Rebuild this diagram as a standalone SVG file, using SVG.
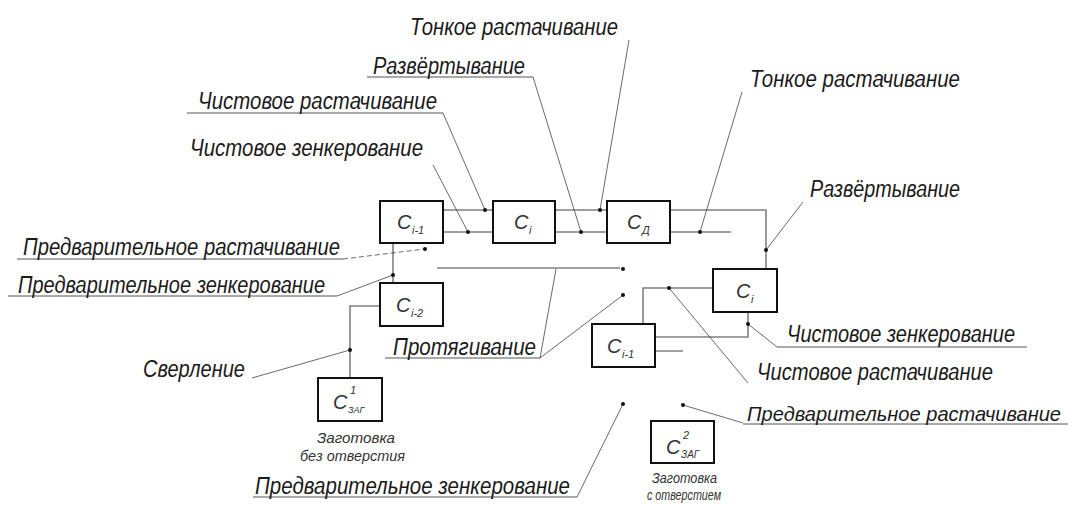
<svg xmlns="http://www.w3.org/2000/svg" width="1074" height="506" viewBox="0 0 1074 506">
<style>
.box{fill:#fff;stroke:#111;stroke-width:2}
.ln{fill:none;stroke:#808080;stroke-width:1.6}
.ld{fill:none;stroke:#444;stroke-width:0.8}
.dash{stroke-dasharray:5,3}
.ul{fill:none;stroke:#555;stroke-width:1}
.dot{fill:#111}
.t{font-family:"Liberation Sans",Arial,sans-serif;font-style:italic;font-size:23px;fill:#1a1a1a}
.s{font-family:"Liberation Sans",Arial,sans-serif;font-style:italic;font-size:15px;fill:#333}
.c{font-family:"Liberation Sans",Arial,sans-serif;font-style:italic;font-size:20px;fill:#333}
.sub{font-family:"Liberation Sans",Arial,sans-serif;font-style:italic;font-size:11px;fill:#333}
.tiny{font-family:"Liberation Sans",Arial,sans-serif;font-style:italic;font-size:9px;fill:#333}
</style>
<rect width="1074" height="506" fill="#fff"/>
<g id="connectors">
<path class="ln" d="M443 210H493M443 232H493M555 210H607M555 232H607M670 210H766V269M670 232H731"/>
<path class="ln" d="M393 243V283M380 306H350V378"/>
<path class="ln" d="M437 268H620"/>
<path class="ln" d="M713 288H643V324M748 312V337H655M655 351H683"/>
</g>
<g id="leaders">
<path class="ld" d="M629 40L600 210"/>
<path class="ld" d="M533 77L581 232"/>
<path class="ld" d="M443 113L485 210"/>
<path class="ld" d="M433 165L468 232"/>
<path class="ld dash" d="M343 259L425 249"/>
<path class="ld" d="M337 296L393 275"/>
<path class="ld" d="M252 378L350 350"/>
<path class="ld" d="M540 358L556 269M540 358L623 295"/>
<path class="ld" d="M742 92L700 232"/>
<path class="ld" d="M803 202L766 250"/>
<path class="ld" d="M777 347L748 324"/>
<path class="ld" d="M748 383L669 288"/>
<path class="ld" d="M743 423L683 405"/>
<path class="ld" d="M577 497L623 404"/>
<g class="ul">
<path d="M367 77H533"/>
<path d="M187 113H443"/>
<path d="M17 259H343"/>
<path d="M8 296H337"/>
<path d="M385 358H540"/>
<path d="M777 347H1027"/>
<path d="M743 424H1068"/>
<path d="M253 497H577"/>
</g>
</g>
<g id="dots" class="dot">
<circle cx="485" cy="210" r="2"/><circle cx="468" cy="232" r="2"/>
<circle cx="600" cy="210" r="2"/><circle cx="581" cy="232" r="2"/>
<circle cx="700" cy="232" r="2"/><circle cx="766" cy="250" r="2"/>
<circle cx="425" cy="249" r="2"/><circle cx="393" cy="275" r="2"/>
<circle cx="350" cy="350" r="2"/><circle cx="623" cy="269" r="2"/>
<circle cx="623" cy="295" r="2"/><circle cx="669" cy="288" r="2"/>
<circle cx="748" cy="324" r="2"/><circle cx="683" cy="405" r="2"/>
<circle cx="623" cy="404" r="2"/>
</g>
<g id="node-ci1-top"><rect class="box" x="380" y="201" width="63" height="42"/><text class="c" x="397" y="229">C</text><text class="sub" x="412" y="234">i-1</text></g>
<g id="node-ci-top"><rect class="box" x="493" y="201" width="62" height="42"/><text class="c" x="514" y="229">C</text><text class="sub" x="529" y="234">i</text></g>
<g id="node-cd"><rect class="box" x="607" y="201" width="63" height="42"/><text class="c" x="627" y="229">C</text><text class="sub" x="642" y="234">Д</text></g>
<g id="node-ci2"><rect class="box" x="380" y="283" width="63" height="43"/><text class="c" x="396" y="312">C</text><text class="sub" x="411" y="317">i-2</text></g>
<g id="node-czag1"><rect class="box" x="318" y="378" width="64" height="43"/><text class="c" x="333" y="409">C</text><text class="sub" x="350" y="394">1</text><text class="tiny" x="348" y="413">ЗАГ</text></g>
<g id="node-ci-right"><rect class="box" x="713" y="269" width="64" height="43"/><text class="c" x="736" y="298">C</text><text class="sub" x="751" y="303">i</text></g>
<g id="node-ci1-low"><rect class="box" x="592" y="324" width="63" height="43"/><text class="c" x="607" y="353">C</text><text class="sub" x="622" y="358">i-1</text></g>
<g id="node-czag2"><rect class="box" x="651" y="421" width="63" height="42"/><text class="c" x="666" y="454">C</text><text class="sub" x="683" y="439">2</text><text class="tiny" x="681" y="458" style="font-size:10px">ЗАГ</text></g>
<g id="labels">
<text class="t" x="410" y="35" textLength="208" lengthAdjust="spacingAndGlyphs">Тонкое растачивание</text>
<text class="t" x="373" y="74" textLength="152" lengthAdjust="spacingAndGlyphs">Развёртывание</text>
<text class="t" x="198" y="109" textLength="239" lengthAdjust="spacingAndGlyphs">Чистовое растачивание</text>
<text class="t" x="190" y="156" textLength="233" lengthAdjust="spacingAndGlyphs">Чистовое зенкерование</text>
<text class="t" x="23" y="255" textLength="317" lengthAdjust="spacingAndGlyphs">Предварительное растачивание</text>
<text class="t" x="18" y="293" textLength="307" lengthAdjust="spacingAndGlyphs">Предварительное зенкерование</text>
<text class="t" x="143" y="377" textLength="102" lengthAdjust="spacingAndGlyphs">Сверление</text>
<text class="t" x="393" y="355" textLength="143" lengthAdjust="spacingAndGlyphs">Протягивание</text>
<text class="t" x="750" y="87" textLength="210" lengthAdjust="spacingAndGlyphs">Тонкое растачивание</text>
<text class="t" x="810" y="197" textLength="150" lengthAdjust="spacingAndGlyphs">Развёртывание</text>
<text class="t" x="787" y="342" textLength="228" lengthAdjust="spacingAndGlyphs">Чистовое зенкерование</text>
<text class="t" x="757" y="380" textLength="236" lengthAdjust="spacingAndGlyphs">Чистовое растачивание</text>
<text class="t" x="747" y="421" textLength="314" lengthAdjust="spacingAndGlyphs" style="font-size:21px">Предварительное растачивание</text>
<text class="t" x="255" y="494" textLength="315" lengthAdjust="spacingAndGlyphs">Предварительное зенкерование</text>
<text class="s" x="317" y="443" textLength="78" lengthAdjust="spacingAndGlyphs">Заготовка</text>
<text class="s" x="300" y="461" textLength="105" lengthAdjust="spacingAndGlyphs">без отверстия</text>
<text class="s" x="652" y="483" textLength="65" lengthAdjust="spacingAndGlyphs">Заготовка</text>
<text class="s" x="647" y="500" textLength="74" lengthAdjust="spacingAndGlyphs">с отверстием</text>
</g>
</svg>
